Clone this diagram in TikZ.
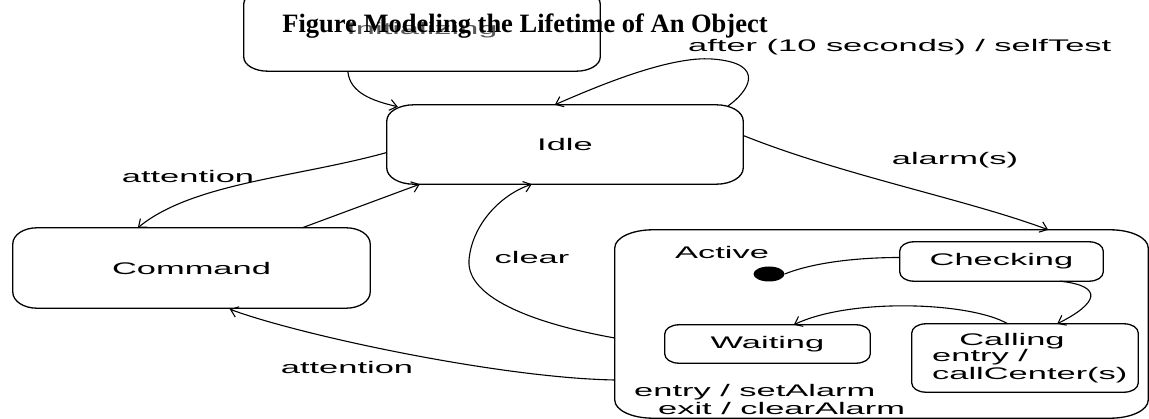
\documentclass[tikz,border=0pt]{standalone}
\usepackage{fontspec}
\setmainfont{Liberation Serif}
\newfontfamily\diagfont[FakeStretch=2.05]{Liberation Sans}
\usetikzlibrary{arrows.meta,calc,shapes.geometric}

% outline of a state box with elliptic corners around a named node
\newcommand\ovalframe[3]{%
  \draw[frame] ($(#1.north west)+(#2,0)$) -- ($(#1.north east)+(-#2,0)$)
    arc[start angle=90,end angle=0,x radius=#2pt,y radius=#3pt]
    -- ($(#1.south east)+(0,-#3)$)
    arc[start angle=0,end angle=-90,x radius=#2pt,y radius=#3pt]
    -- ($(#1.south west)+(#2,0)$)
    arc[start angle=270,end angle=180,x radius=#2pt,y radius=#3pt]
    -- ($(#1.north west)+(0,#3)$)
    arc[start angle=180,end angle=90,x radius=#2pt,y radius=#3pt]
    -- cycle;}

\tikzset{
  box/.style={draw=none, inner sep=0pt},
  frame/.style={line width=1.3pt, line join=round},
  trans/.style={line width=1.1pt, -{Straight Barb[length=7pt,width=11pt]}},
  plainline/.style={line width=1.1pt},
  txt/.style={inner sep=0pt},
}

\begin{document}
\begin{tikzpicture}[x=1pt, y=-1pt, font={\diagfont\fontsize{16.8pt}{19pt}\selectfont}]
\useasboundingbox (0,0) rectangle (1149,419);
\clip (0,0) rectangle (1149,419);

% states
\node[box, minimum width=356pt, minimum height=81pt, text=black!65] (init) at (422,30.5) {Initializing};
\node[box, minimum width=356pt, minimum height=79pt] (idle) at (565,144.5) {Idle};
\node[box, minimum width=357pt, minimum height=80pt] (cmd) at (191.5,268) {Command};
\node[box, minimum width=533pt, minimum height=188pt] (active) at (881.5,324) {};
\node[box, minimum width=203pt, minimum height=39pt] (checking) at (1001.5,261.5) {Checking};
\node[box, minimum width=205pt, minimum height=38pt] (waiting) at (767.5,344) {Waiting};
\node[box, minimum width=226pt, minimum height=68pt] (calling) at (1025,358) {};
\node[ellipse, fill=black, inner sep=0pt, minimum width=31pt, minimum height=15pt] (start) at (769,274) {};

\ovalframe{init}{24}{14}
\ovalframe{idle}{27}{16}
\ovalframe{cmd}{24}{16}
\ovalframe{active}{38}{18}
\ovalframe{checking}{14}{9}
\ovalframe{waiting}{14}{9}
\ovalframe{calling}{14}{9}

% texts inside the composite state
\node[txt, anchor=west] (activename) at (675,252) {Active};
\node[txt, anchor=west] (entryact) at (634,392) {entry / setAlarm};
\node[txt, anchor=west] (exitact) at (658,408.5) {exit / clearAlarm};
\node[txt] (callname) at (1012,341) {Calling};
\node[txt, anchor=west] (callentry) at (932,357) {entry /};
\node[txt, anchor=west] (callaction) at (932,375) {callCenter(s)};

% transitions
\draw[trans] ($(init.south west)+(104,0)$) .. controls +(2,22) and +(-25,-6) .. ($(idle.north west)+(11,2)$);
\draw[trans] ($(idle.north east)+(-15,1)$) .. controls (748,92) and (768,63) .. (712,59)
  .. controls (670,56) and (600,85) .. ($(idle.north west)+(168,0)$);
\draw[trans] ($(idle.west)+(0,8)$) .. controls +(-90,25) and +(55,-45) .. ($(cmd.north west)+(125,0)$);
\draw[trans] ($(cmd.north east)+(-68,0)$) -- ($(idle.south west)+(33,0)$);
\draw[trans] ($(active.west)+(0,14)$) .. controls +(-73,-13) and +(-3,40) .. (469,260)
  .. controls (472,225) and (500,195) .. ($(idle.south west)+(145,0)$);
\draw[trans] ($(active.west)+(0,56)$) .. controls +(-115,-2) and +(70,26) .. ($(cmd.south west)+(217,1)$);
\draw[trans] ($(idle.east)+(0,-9)$) .. controls +(100,40) and +(-80,-30) .. ($(active.north east)+(-100,0)$);
\draw[plainline] ($(checking.west)+(0,-4)$) .. controls +(-40,0) and +(30,-12) .. (start.east);
\draw[trans] ($(checking.south east)+(-43,0)$) .. controls +(45,5) and +(40,-20) .. ($(calling.north east)+(-81,0)$);
\draw[trans] ($(calling.north west)+(96,0)$) .. controls +(-38,-22) and +(56,-27) .. ($(waiting.north west)+(129,0)$);

% transition labels
\node[txt, anchor=west] (lblafter) at (688,47) {after (10 seconds) / selfTest};
\node[txt] (lblatt1) at (188,176) {attention};
\node[txt] (lblalarm) at (955,160) {alarm(s)};
\node[txt] (lblclear) at (532,257) {clear};
\node[txt] (lblatt2) at (347,367) {attention};

% heading
\node[txt, anchor=base, font={\rmfamily\bfseries\fontsize{26.5pt}{30pt}\selectfont}] (title) at (525,33) {Figure Modeling the Lifetime of An Object};
\end{tikzpicture}
\end{document}
